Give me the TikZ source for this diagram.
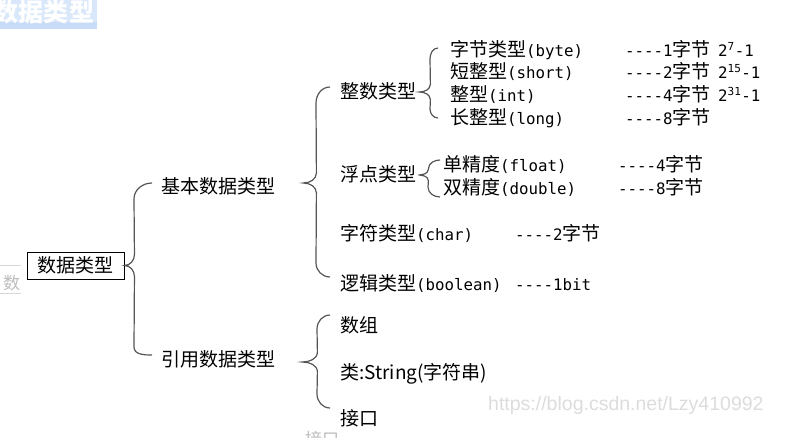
\documentclass[tikz,border=0pt]{standalone}
\usepackage{fontspec}
\setmainfont{Noto Sans CJK SC}
\newfontfamily\mono{DejaVu Sans Mono}[Scale=0.83]
\newfontfamily\wmfont{Liberation Sans}
\usetikzlibrary{calc}
\definecolor{bracegrey}{RGB}{85,85,85}
\definecolor{hdrblue}{RGB}{216,231,250}
\definecolor{hdrband}{RGB}{200,220,247}
\definecolor{fadegrey}{RGB}{188,188,188}
\definecolor{wmgrey}{RGB}{220,220,220}

\begin{document}
\begin{tikzpicture}[x=1pt,y=-1pt,
  lbl/.style={anchor=west,inner sep=0pt,text height=15.5pt,text depth=1.5pt,font=\fontsize{19}{22}\selectfont},
  brace/.style={draw=bracegrey,line width=1.2pt}]
\useasboundingbox (0,0) rectangle (799,438);
\clip (0,0) rectangle (799,438);

% cut-off bits round the edges
\fill[hdrblue] (0,0) rectangle (97,22);
\fill[hdrband] (0,22) rectangle (97,29);
\node[inner sep=0pt,text=white,font=\fontsize{25}{28}\selectfont\bfseries] (hdr) at (44,12) {数据类型};
\draw[fadegrey!60] (0,265) -- (21,265);
\draw[fadegrey!60] (0,293) -- (21,293);
\node[lbl,text=fadegrey,font=\fontsize{17}{20}\selectfont] (fragL) at (3,282) {数};
\node[lbl,text=fadegrey,font=\fontsize{17}{20}\selectfont] (fragB) at (305,438) {接口};
\node[anchor=west,inner sep=0pt,text=wmgrey,font=\wmfont\fontsize{19.5}{22}\selectfont] (wm) at (488,405) {https://blog.csdn.net/Lzy410992};

\node[draw,line width=0.9pt,inner sep=0pt,minimum width=97pt,minimum height=27pt,font=\fontsize{19}{22}\selectfont] (root) at (75.5,265.5) {数据类型};

\node[lbl] (base) at (161,187) {基本数据类型};
\node[lbl] (ref) at (161,359) {引用数据类型};

\node[lbl] (int) at (340,92) {整数类型};
\node[lbl] (float) at (340,175) {浮点类型};
\node[lbl] (char) at (340,233) {字符类型{\mono (char)}};
\node[lbl] (bool) at (340,283) {逻辑类型{\mono (boolean)}};

\node[lbl] (byte) at (450,50) {字节类型{\mono (byte)}};
\node[lbl] (short) at (450,72) {短整型{\mono (short)}};
\node[lbl] (intt) at (450,95) {整型{\mono (int)}};
\node[lbl] (long) at (450,118) {长整型{\mono (long)}};
\node[lbl] (single) at (443,165) {单精度{\mono (float)}};
\node[lbl] (double) at (443,188) {双精度{\mono (double)}};

\node[lbl] (byteB) at (625,50) {{\mono ----1}字节};
\node[lbl] (shortB) at (625,72) {{\mono ----2}字节};
\node[lbl] (inttB) at (625,95) {{\mono ----4}字节};
\node[lbl] (longB) at (625,118) {{\mono ----8}字节};
\node[lbl] (byteR) at (718,50) {\mono 2\textsuperscript{7}-1};
\node[lbl] (shortR) at (718,72) {\mono 2\textsuperscript{15}-1};
\node[lbl] (inttR) at (718,95) {\mono 2\textsuperscript{31}-1};
\node[lbl] (singleB) at (618,165) {{\mono ----4}字节};
\node[lbl] (doubleB) at (618,188) {{\mono ----8}字节};
\node[lbl] (charB) at (515,233) {{\mono ----2}字节};
\node[lbl] (boolB) at (515,283) {\mono ----1bit};

\node[lbl] (arr) at (340,325) {数组};
\node[lbl] (str) at (340,372) {类:String(字符串)};
\node[lbl] (iface) at (340,418) {接口};

% brace tips
\coordinate (baseTip) at ($(base.east)+(28,-4)$);
\coordinate (intTip) at ($(int.east)+(3,0)$);
\coordinate (floatTip) at ($(float.east)+(2,0)$);
\coordinate (refTip) at ($(ref.east)+(27,3)$);

\draw[brace] ($(base.west)+(-9,-4)$) to[out=180,in=90] ($(base.west)+(-27,12)$)
  -- ($(root.east)+(10,-11)$) to[out=-90,in=0] (root.east)
  to[out=0,in=90] ($(root.east)+(10,11)$)
  -- ($(ref.west)+(-27,-12)$) to[out=-90,in=180] ($(ref.west)+(-9,-4)$);
\draw[brace] ($(int.west)+(-10,-5)$) to[out=180,in=90] ($(int.west)+(-24,11)$)
  -- ($(baseTip)+(13,-10)$) to[out=-90,in=0] (baseTip)
  to[out=0,in=90] ($(baseTip)+(13,10)$)
  -- ($(bool.west)+(-24,-20)$) to[out=-90,in=180] ($(bool.west)+(-10,-6)$);
\draw[brace] ($(byte.west)+(-12,-2)$) to[out=180,in=90] ($(byte.west)+(-20,9)$)
  -- ($(intTip)+(11,-8)$) to[out=-90,in=0] (intTip)
  to[out=0,in=90] ($(intTip)+(11,8)$)
  -- ($(long.west)+(-20,-9)$) to[out=-90,in=180] ($(long.west)+(-12,0)$);
\draw[brace] ($(single.west)+(-3,-5)$) to[out=180,in=90] ($(floatTip)+(10,-6)$)
  to[out=-90,in=0] (floatTip)
  to[out=0,in=90] ($(floatTip)+(10,6)$)
  -- ($(double.west)+(-15,-1)$) to[out=-90,in=180] ($(double.west)+(-3,9)$);
\draw[brace] ($(arr.west)+(-10,-10)$) to[out=180,in=90] ($(arr.west)+(-23,4)$)
  -- ($(refTip)+(15,-10)$) to[out=-90,in=0] (refTip)
  to[out=0,in=90] ($(refTip)+(15,10)$)
  -- ($(iface.west)+(-23,-24)$) to[out=-90,in=180] ($(iface.west)+(-10,-10)$);
\end{tikzpicture}
\end{document}
